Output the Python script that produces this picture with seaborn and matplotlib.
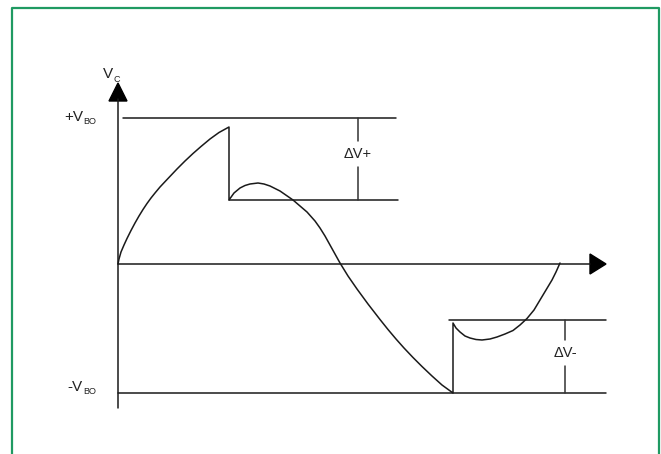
import numpy as np
import pandas as pd
import matplotlib.pyplot as plt
import seaborn as sns

# capacitor voltage trace (t and Vc in arbitrary units)
trace_t = [0.0, 0.1, 0.3, 0.6, 0.9, 1.3, 1.7, 2.1, 2.5, 2.9, 3.3, 3.7, 4.2, 5.0, 5.9,
           6.7, 7.5, 8.3, 9.2, 10.1, 11.1,
           11.1, 11.6, 12.2, 12.7, 13.2, 14.0, 14.6, 15.2, 16.2, 17.5, 18.9, 19.7, 20.2,
           20.7, 21.2, 21.7, 22.2, 23.0, 23.9, 25.0, 26.2, 27.0, 27.8, 28.6, 29.5,
           30.4, 31.4, 32.4, 33.5,
           33.5, 33.8, 34.2, 34.7, 35.2, 35.8, 36.4, 37.2, 37.9, 38.7, 39.5, 40.2,
           40.9, 41.6, 42.2, 42.8, 43.4, 43.8, 44.2]
trace_v = [0.0, 0.5, 1.2, 1.9, 2.55, 3.35, 4.1, 4.8, 5.45, 6.05, 6.6, 7.1, 7.7, 8.55, 9.5,
           10.3, 11.05, 11.75, 12.5, 13.15, 13.7,
           6.4, 7.1, 7.6, 7.85, 8.0, 8.1, 8.0, 7.8, 7.3, 6.4, 5.2, 4.3, 3.6,
           2.8, 1.9, 1.0, 0.1, -1.2, -2.5, -4.0, -5.55, -6.55, -7.5, -8.4, -9.35,
           -10.25, -11.2, -12.1, -12.9,
           -5.9, -6.4, -6.8, -7.2, -7.4, -7.55, -7.6, -7.5, -7.3, -7.0, -6.65, -6.1,
           -5.45, -4.6, -3.6, -2.6, -1.6, -0.8, 0.1]

# horizontal reference levels: name, level, start, end
ref_names = ['+VBO', 'dv_plus_low', 'axis', '-VBO', 'dv_minus_high']
ref_level = [14.6, 6.4, 0.0, -12.9, -5.6]
ref_start = [0.5, 11.1, 0.0, 0.0, 33.1]
ref_end = [27.8, 28.0, 47.2, 48.8, 48.8]

# delta markers: position, top, bottom, label height, label
delta_t = [24.0, 44.7]
delta_hi = [14.6, -5.6]
delta_lo = [6.4, -12.9]
delta_mid = [11.0, -8.9]
delta_lbl = ['ΔV+', 'ΔV-']

vaxis_lo, vaxis_hi = -14.4, 18.1
haxis_hi = 48.8

sns.set_style('white')
plt.rcParams['font.family'] = ['Liberation Sans', 'DejaVu Sans']

fig = plt.figure(figsize=(6.61, 4.54), dpi=100)
ax = fig.add_axes([0, 0, 1, 1])
ax.set_xlim(-11.8, 54.3)
ax.set_ylim(-19.0, 26.4)
ax.axis('off')

ink = '#1a1a1a'
lw = 1.1

trace = pd.DataFrame({'t': trace_t, 'v': trace_v})
sns.lineplot(data=trace, x='t', y='v', sort=False, estimator=None,
             color=ink, lw=lw, ax=ax)

refs = pd.DataFrame({'name': ref_names * 2,
                     't': ref_start + ref_end,
                     'v': ref_level * 2})
sns.lineplot(data=refs, x='t', y='v', units='name', estimator=None,
             color=ink, lw=lw, ax=ax)

# vertical axis and arrowheads
ax.plot([0, 0], [vaxis_lo, vaxis_hi - 1.6], color=ink, lw=lw)
ax.fill([-0.9, 0.9, 0], [vaxis_hi - 1.8, vaxis_hi - 1.8, vaxis_hi], color='black')
ax.fill([haxis_hi - 1.6, haxis_hi - 1.6, haxis_hi], [-1.0, 1.0, 0], color='black')

# delta markers with a gap for the label
for x, hi, lo, mid, lbl in zip(delta_t, delta_hi, delta_lo, delta_mid, delta_lbl):
    ax.plot([x, x], [hi, mid + 1.3], color='#333333', lw=lw)
    ax.plot([x, x], [mid - 1.3, lo], color='#333333', lw=lw)
    ax.text(x, mid, lbl, ha='center', va='center', fontsize=10.5, color='#222222')

# axis labels
ax.text(-1.5, 19.0, 'V', ha='left', va='center', fontsize=11, color='#222222')
ax.text(-0.5, 18.5, 'C', ha='left', va='center', fontsize=6.5, color='#222222')
ax.text(-3.5, 14.7, '+V', ha='right', va='center', fontsize=11, color='#222222')
ax.text(-3.5, 14.3, 'BO', ha='left', va='center', fontsize=6.5, color='#222222')
ax.text(-3.5, -12.3, '-V', ha='right', va='center', fontsize=11, color='#222222')
ax.text(-3.5, -12.7, 'BO', ha='left', va='center', fontsize=6.5, color='#222222')

# green frame, open at the bottom
green = '#1f9a62'
ax.plot([-10.6, -10.6, 54.1, 54.1], [-20, 25.6, 25.6, -20], color=green, lw=1.6,
        clip_on=False)

fig.savefig('out.png', dpi=100)
